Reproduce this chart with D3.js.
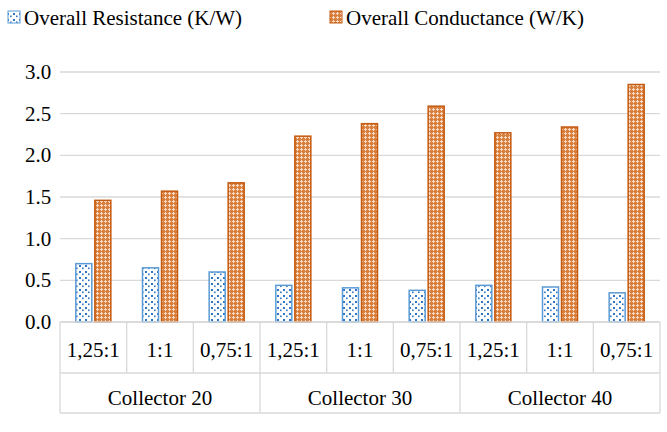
<!DOCTYPE html><html><head><script src="https://d3js.org/d3.v7.min.js"></script>
<style>body{margin:0;background:#fff}</style></head><body>
<svg width="667" height="432" font-family="'Liberation Serif', 'DejaVu Serif', serif"></svg>
<script>
const groups=["Collector 20","Collector 30","Collector 40"];
const ratios=["1,25:1","1:1","0,75:1"];
const resistance=[0.70,0.65,0.60,0.44,0.41,0.38,0.44,0.42,0.35];
const conductance=[1.46,1.57,1.67,2.23,2.38,2.59,2.27,2.34,2.85];
const yTicks=[0,0.5,1,1.5,2,2.5,3];
const seriesNames=["Overall Resistance (K/W)","Overall Conductance (W/K)"];
const svg=d3.select("svg");
const defs=svg.append("defs");
const pb=defs.append("pattern").attr("id","pb").attr("width",6).attr("height",6).attr("patternUnits","userSpaceOnUse");
pb.append("rect").attr("width",6).attr("height",6).attr("fill","#fff");
pb.append("rect").attr("x",1).attr("y",1).attr("width",2).attr("height",2).attr("fill","#2E75C6");
pb.append("rect").attr("x",4).attr("y",3.5).attr("width",1.6).attr("height",1.6).attr("fill","#2E75C6");
const po=defs.append("pattern").attr("id","po").attr("width",4).attr("height",4).attr("patternUnits","userSpaceOnUse");
po.append("rect").attr("width",4).attr("height",4).attr("fill","#D9803F");
po.append("rect").attr("x",1).attr("y",0).attr("width",1).attr("height",3).attr("fill","#F6DCC7");
po.append("rect").attr("x",0).attr("y",1).attr("width",3).attr("height",1).attr("fill","#F6DCC7");
const y=d3.scaleLinear().domain([0,3]).range([322,72]);
const cats=d3.range(9);
const x=d3.scaleBand().domain(cats).range([60,660]);
svg.append("g").selectAll("line").data(yTicks).join("line").attr("x1",60).attr("x2",660)
 .attr("y1",d=>y(d)).attr("y2",d=>y(d)).attr("stroke","#d9d9d9").attr("stroke-width",1.3);
svg.append("g").selectAll("text").data(yTicks).join("text").attr("x",38).attr("y",d=>y(d)+7)
 .attr("text-anchor","middle").attr("font-size",21).text(d=>d.toFixed(1));
const bw=16;
svg.append("g").selectAll("rect").data(resistance).join("rect").attr("x",(d,i)=>x(i)+x.bandwidth()/2-bw-1.5)
 .attr("y",d=>y(d)).attr("width",bw).attr("height",d=>322-y(d)).attr("fill","url(#pb)").attr("stroke","#5B9BD5").attr("stroke-width",1.5);
svg.append("g").selectAll("rect").data(conductance).join("rect").attr("x",(d,i)=>x(i)+x.bandwidth()/2+1.5)
 .attr("y",d=>y(d)).attr("width",bw).attr("height",d=>322-y(d)).attr("fill","url(#po)").attr("stroke","#C55A11").attr("stroke-width",1.5);
const ax=svg.append("g").attr("stroke","#d9d9d9").attr("stroke-width",1.3);
ax.append("line").attr("x1",60).attr("x2",660).attr("y1",322).attr("y2",322);
ax.append("line").attr("x1",60).attr("x2",660).attr("y1",373).attr("y2",373);
ax.append("line").attr("x1",60).attr("x2",660).attr("y1",413).attr("y2",413);
cats.concat([9]).forEach(i=>{const xx=i<9?x(i):660;const full=i%3===0;
 ax.append("line").attr("x1",xx).attr("x2",xx).attr("y1",322).attr("y2",full?413:373);});
svg.append("g").selectAll("text").data(cats).join("text").attr("x",i=>x(i)+x.bandwidth()/2).attr("y",357)
 .attr("text-anchor","middle").attr("font-size",21).text(i=>ratios[i%3]);
svg.append("g").selectAll("text").data(groups).join("text").attr("x",(d,g)=>x(g*3)+1.5*x.bandwidth()).attr("y",405)
 .attr("text-anchor","middle").attr("font-size",21).text(d=>d);
const lg=svg.append("g");
[[22,"url(#pb)","#5B9BD5"],[344,"url(#po)","#C55A11"]].forEach((l,i)=>{
 lg.append("rect").attr("x",l[0]-14).attr("y",11).attr("width",12).attr("height",12).attr("fill",l[1]).attr("stroke",l[2]);
 lg.append("text").attr("x",l[0]+2).attr("y",25).attr("font-size",21).text(seriesNames[i]);});
</script></body></html>
